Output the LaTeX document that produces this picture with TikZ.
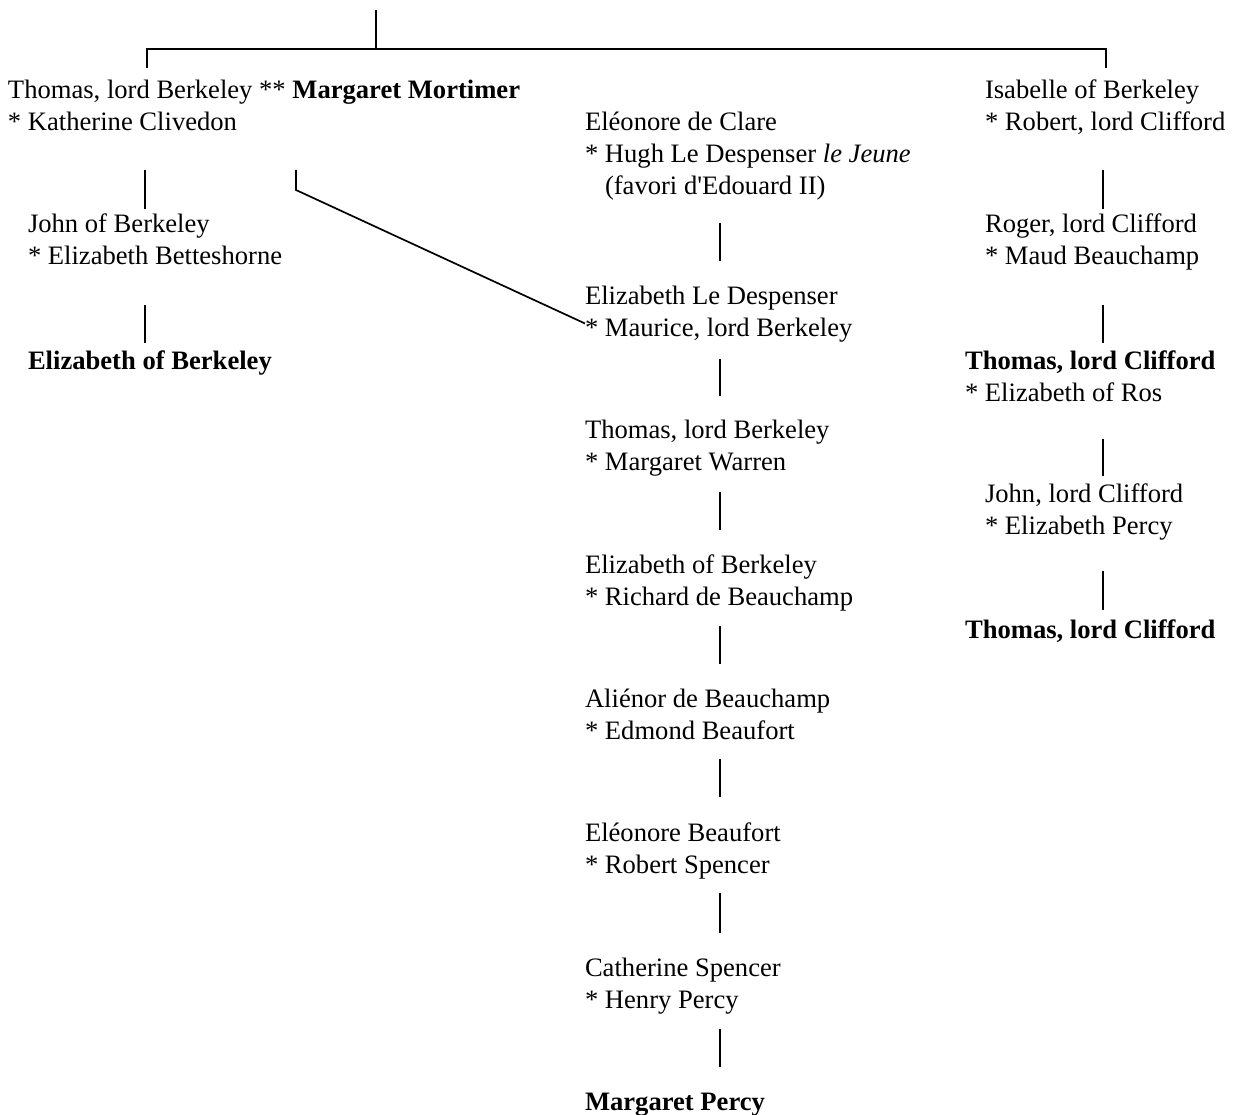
\documentclass[tikz,border=0pt]{standalone}
\usepackage{fontspec}
\setmainfont{Liberation Serif}
% fixed line box: 25pt above the baseline, 7pt below
\newcommand\lnst{\rule[-7pt]{0pt}{32pt}}
% vertical link between two entries of one column
\newcommand\kinline[5]{\draw[link] ([yshift=-#4pt]#1.south -| #3) -- ([yshift=#5pt]#2.north -| #3);}
\begin{document}
\begin{tikzpicture}[x=1pt,y=-1pt,
  person/.style={anchor=north west, inner sep=0pt, outer sep=0pt, align=left,
    font=\fontsize{26.6pt}{32pt}\selectfont},
  link/.style={line width=1.7pt, line join=miter}]
\useasboundingbox (0,0) rectangle (1234,1115);

% column axes
\coordinate (colL) at (145,0);
\coordinate (colM) at (720,0);
\coordinate (colR) at (1103,0);
\coordinate (dropL) at (147,0);
\coordinate (dropR) at (1106,0);
\coordinate (diag) at (296,0);
\coordinate (root) at (376,10);
\coordinate (bar) at (376,49);

% left branch
\node[person] (tb) at (8,74) {\lnst Thomas, lord Berkeley ** \textbf{Margaret Mortimer}\\\lnst * Katherine Clivedon};
\node[person] (jb) at (28,208) {\lnst John of Berkeley\\\lnst * Elizabeth Betteshorne};
\node[person] (ebL) at (28,344) {\lnst\textbf{Elizabeth of Berkeley}};

% middle branch
\node[person] (ec) at (585,106) {\lnst Eléonore de Clare\\\lnst * Hugh Le Despenser \textit{le Jeune}\\\lnst\hspace*{20pt}(favori d\textquotesingle Edouard II)};
\node[person] (eld) at (585,279) {\lnst Elizabeth Le Despenser\\\lnst * Maurice, lord Berkeley};
\node[person] (tbM) at (585,413) {\lnst Thomas, lord Berkeley\\\lnst * Margaret Warren};
\node[person] (ebM) at (585,548) {\lnst Elizabeth of Berkeley\\\lnst * Richard de Beauchamp};
\node[person] (ab) at (585,682) {\lnst Aliénor de Beauchamp\\\lnst * Edmond Beaufort};
\node[person] (eBeau) at (585,816) {\lnst Eléonore Beaufort\\\lnst * Robert Spencer};
\node[person] (cs) at (585,951) {\lnst Catherine Spencer\\\lnst * Henry Percy};
\node[person] (mp) at (585,1085) {\lnst\textbf{Margaret Percy}};

% right branch
\node[person] (ib) at (985,74) {\lnst Isabelle of Berkeley\\\lnst * Robert, lord Clifford};
\node[person] (rc) at (985,208) {\lnst Roger, lord Clifford\\\lnst * Maud Beauchamp};
\node[person] (tcR) at (965,344) {\lnst\textbf{Thomas, lord Clifford}\\\lnst * Elizabeth of Ros};
\node[person] (jc) at (985,477) {\lnst John, lord Clifford\\\lnst * Elizabeth Percy};
\node[person] (tcR2) at (965,613) {\lnst\textbf{Thomas, lord Clifford}};

% common ancestor bar
\draw[link] (root) -- (bar);
\draw[link] ([yshift=6pt]tb.north -| dropL) |- (bar) -| ([yshift=6pt]ib.north -| dropR);

% descent lines
\kinline{tb}{jb}{colL}{32}{-1}
\kinline{jb}{ebL}{colL}{33}{1}

\kinline{ec}{eld}{colM}{21}{18}
\kinline{eld}{tbM}{colM}{16}{17}
\kinline{tbM}{ebM}{colM}{15}{18}
\kinline{ebM}{ab}{colM}{14}{18}
\kinline{ab}{eBeau}{colM}{13}{19}
\kinline{eBeau}{cs}{colM}{13}{18}
\kinline{cs}{mp}{colM}{14}{18}

\kinline{ib}{rc}{colR}{32}{-1}
\kinline{rc}{tcR}{colR}{33}{1}
\kinline{tcR}{jc}{colR}{31}{1}
\kinline{jc}{tcR2}{colR}{30}{3}

% second marriage: Thomas to Maurice
\draw[link] ([yshift=-32pt]tb.south -| diag) -- ++(0,20) -- ([yshift=-12.5pt]eld.west);
\end{tikzpicture}
\end{document}
